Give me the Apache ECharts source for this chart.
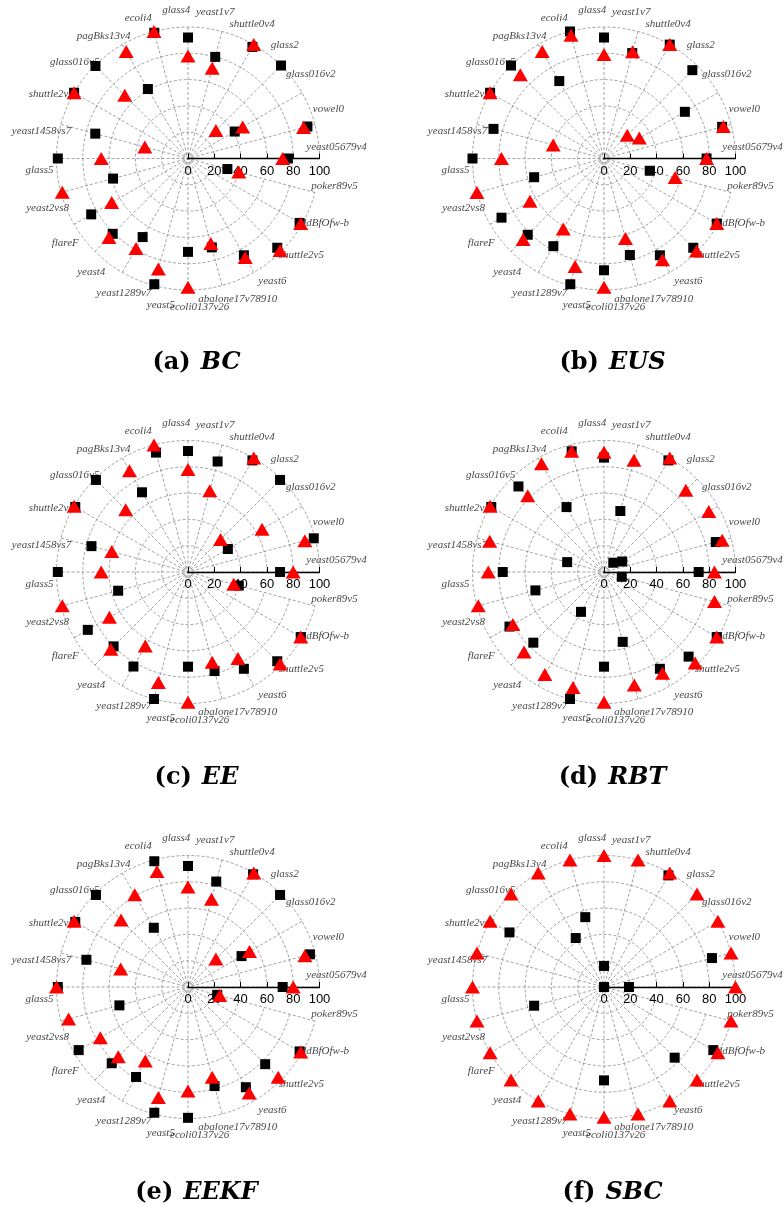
<!DOCTYPE html>
<html><head><meta charset="utf-8">
<script src="https://cdn.jsdelivr.net/npm/echarts@6/dist/echarts.min.js"></script>
<style>html,body{margin:0;padding:0;background:#fff}#c{width:784px;height:1207px}</style>
</head><body><div id="c"></div>
<script>
// Categories, counter-clockwise from 0° (right)
const categories = ['yeast05679v4','vowel0','glass016v2','glass2','shuttle0v4','yeast1v7','glass4','ecoli4','pagBks13v4','glass016v5','shuttle2vs4','yeast1458vs7','glass5','yeast2vs8','flareF','yeast4','yeast1289v7','yeast5','ecoli0137v26','abalone17v78910','yeast6','shuttle2v5','kddBfOfw-b','poker89v5'];
const radiusTicks = [0, 20, 40, 60, 80, 100];
const panelLetters = ['(a)', '(b)', '(c)', '(d)', '(e)', '(f)'];
const panelNames = ['BC', 'EUS', 'EE', 'RBT', 'EEKF', 'SBC'];

const bcSquares    = [76,94,41,100,98,80,92,99,61,99.5,100,73,99,59,85,81,69,99,71,70,85,96,98,31];
const bcTriangles  = [72,91,48,30,100,71,78,100,94,68,100,34,66,99,67,85,79,87,98,67,87,99,99,40];
const eusSquares   = [78,93,71,95,100,83,92,100,68,100,100,87,100,55,90,82,77,99,85,76,85,96,99,36];
const eusTriangles = [78,94,31,25,100,84,79,97,94,90,100,40,78,100,65,87,62,85,98,63,89,99.5,99,56];
const eeSquares    = [70,99,35,99,98,87,92,94,70,99,99,76,99,55,88,80,83,100,72,78,85,96,99,40];
const eeTriangles  = [80,92,65,35,100,64,78,100,89,67,100,60,66,99,69,83,65,87,99,71,76,99,99,36];
const rbtSquares   = [72,88,16,10,98,48,87,95,57,92,99,29,77,54,83,76,35,100,72,55,85,91,99,14];
const rbtTriangles = [84,93,92,88,100,88,91,95,95,82,100,90,88,99,80,86,90,91,99,89,89,98,99,87];
const eekfSquares  = [72,96,47,99,99,83,92,99,52,99,99,80,99,54,96,82,79,99,99.5,78,88,83,98,23];
const eekfTriangles= [80,92,54,30,100,69,76,91,81,72,100,53,100,94,77,75,65,87,79,71,93,97,99,25];
const sbcSquares   = [19,85,0,0,98,0,16,55,43,0,83,0,0,55,0,0,0,0,71,0,0,76,96,0];
const sbcTriangles = [100,100,100,100,100,100,100,100,100,100,100,100,100,100,100,100,100,100,99,100,100,100,100,100];

const squaresAll = [bcSquares, eusSquares, eeSquares, rbtSquares, eekfSquares, sbcSquares];
const trianglesAll = [bcTriangles, eusTriangles, eeTriangles, rbtTriangles, eekfTriangles, sbcTriangles];

const centers = [[188,158.5],[604,158.5],[188,572],[604,572],[188,987],[604,987]];
const captionY = [360, 360, 775, 775, 1190, 1190];
const R = 131.5;
const LABEL_R = 149;
const LABEL_SHIFT = 4.5;

const polar = [], angleAxis = [], radiusAxis = [], series = [], title = [];
const grayDash = {color: '#8a8a8a', width: 0.8, type: [3, 2]};

centers.forEach((c, p) => {
  const dataIdx = polar.length;
  polar.push({center: c, radius: R});
  angleAxis.push({
    polarIndex: dataIdx, type: 'category', data: categories, boundaryGap: false,
    startAngle: 0, clockwise: false,
    axisLine: {show: false}, axisTick: {show: false}, axisLabel: {show: false},
    splitLine: {show: true, lineStyle: grayDash}
  });
  radiusAxis.push({
    polarIndex: dataIdx, type: 'value', min: radiusTicks[0], max: radiusTicks[radiusTicks.length-1],
    interval: radiusTicks[1] - radiusTicks[0], z: 5,
    axisLine: {show: true, lineStyle: {color: '#000', width: 1.3}},
    axisTick: {show: true, length: 5, lineStyle: {color: '#000', width: 1}},
    axisLabel: {show: true, color: '#000', fontFamily: 'Liberation Sans', fontSize: 13, margin: -19},
    splitLine: {show: true, lineStyle: grayDash}
  });
  const labIdx = polar.length;
  polar.push({center: c, radius: LABEL_R});
  angleAxis.push({
    polarIndex: labIdx, type: 'category', data: categories, boundaryGap: false,
    startAngle: LABEL_SHIFT, clockwise: false,
    axisLine: {show: false}, axisTick: {show: false}, axisLabel: {show: false}, splitLine: {show: false}
  });
  radiusAxis.push({
    polarIndex: labIdx, type: 'value', min: 0, max: 100,
    axisLine: {show: false}, axisTick: {show: false}, axisLabel: {show: false}, splitLine: {show: false}
  });

  series.push({
    type: 'scatter', coordinateSystem: 'polar', polarIndex: dataIdx,
    symbol: 'rect', symbolSize: 10, itemStyle: {color: '#000', opacity: 1}, z: 10,
    data: squaresAll[p].map((v, i) => [v, i])
  });
  series.push({
    type: 'scatter', coordinateSystem: 'polar', polarIndex: dataIdx,
    symbol: 'triangle', symbolSize: [15, 13], itemStyle: {color: '#ff0000', opacity: 1}, z: 11,
    data: trianglesAll[p].map((v, i) => [v, i])
  });
  series.push({
    type: 'scatter', coordinateSystem: 'polar', polarIndex: labIdx, silent: true,
    symbolSize: 1, itemStyle: {color: 'transparent'}, z: 3,
    label: {show: true, position: 'inside', formatter: '{b}', color: '#111',
      fontFamily: 'Liberation Serif', fontStyle: 'italic', fontSize: 11},
    data: categories.map((name, i) => ({name: name, value: [100, i]}))
  });

  title.push({
    text: '{a|' + panelLetters[p] + '}  {b|' + panelNames[p] + '}',
    left: c[0] + 3.5, top: captionY[p] - 14, textAlign: 'center',
    textStyle: {
      rich: {
        a: {fontFamily: 'DejaVu Serif', fontWeight: 'bold', fontSize: 24, color: '#000'},
        b: {fontFamily: 'DejaVu Serif', fontWeight: 'bold', fontStyle: 'italic', fontSize: 24, color: '#000'}
      }
    }
  });
});

const chart = echarts.init(document.getElementById('c'), null, {renderer: 'canvas'});
chart.setOption({animation: false, backgroundColor: '#fff', title, polar, angleAxis, radiusAxis, series});
</script></body></html>
